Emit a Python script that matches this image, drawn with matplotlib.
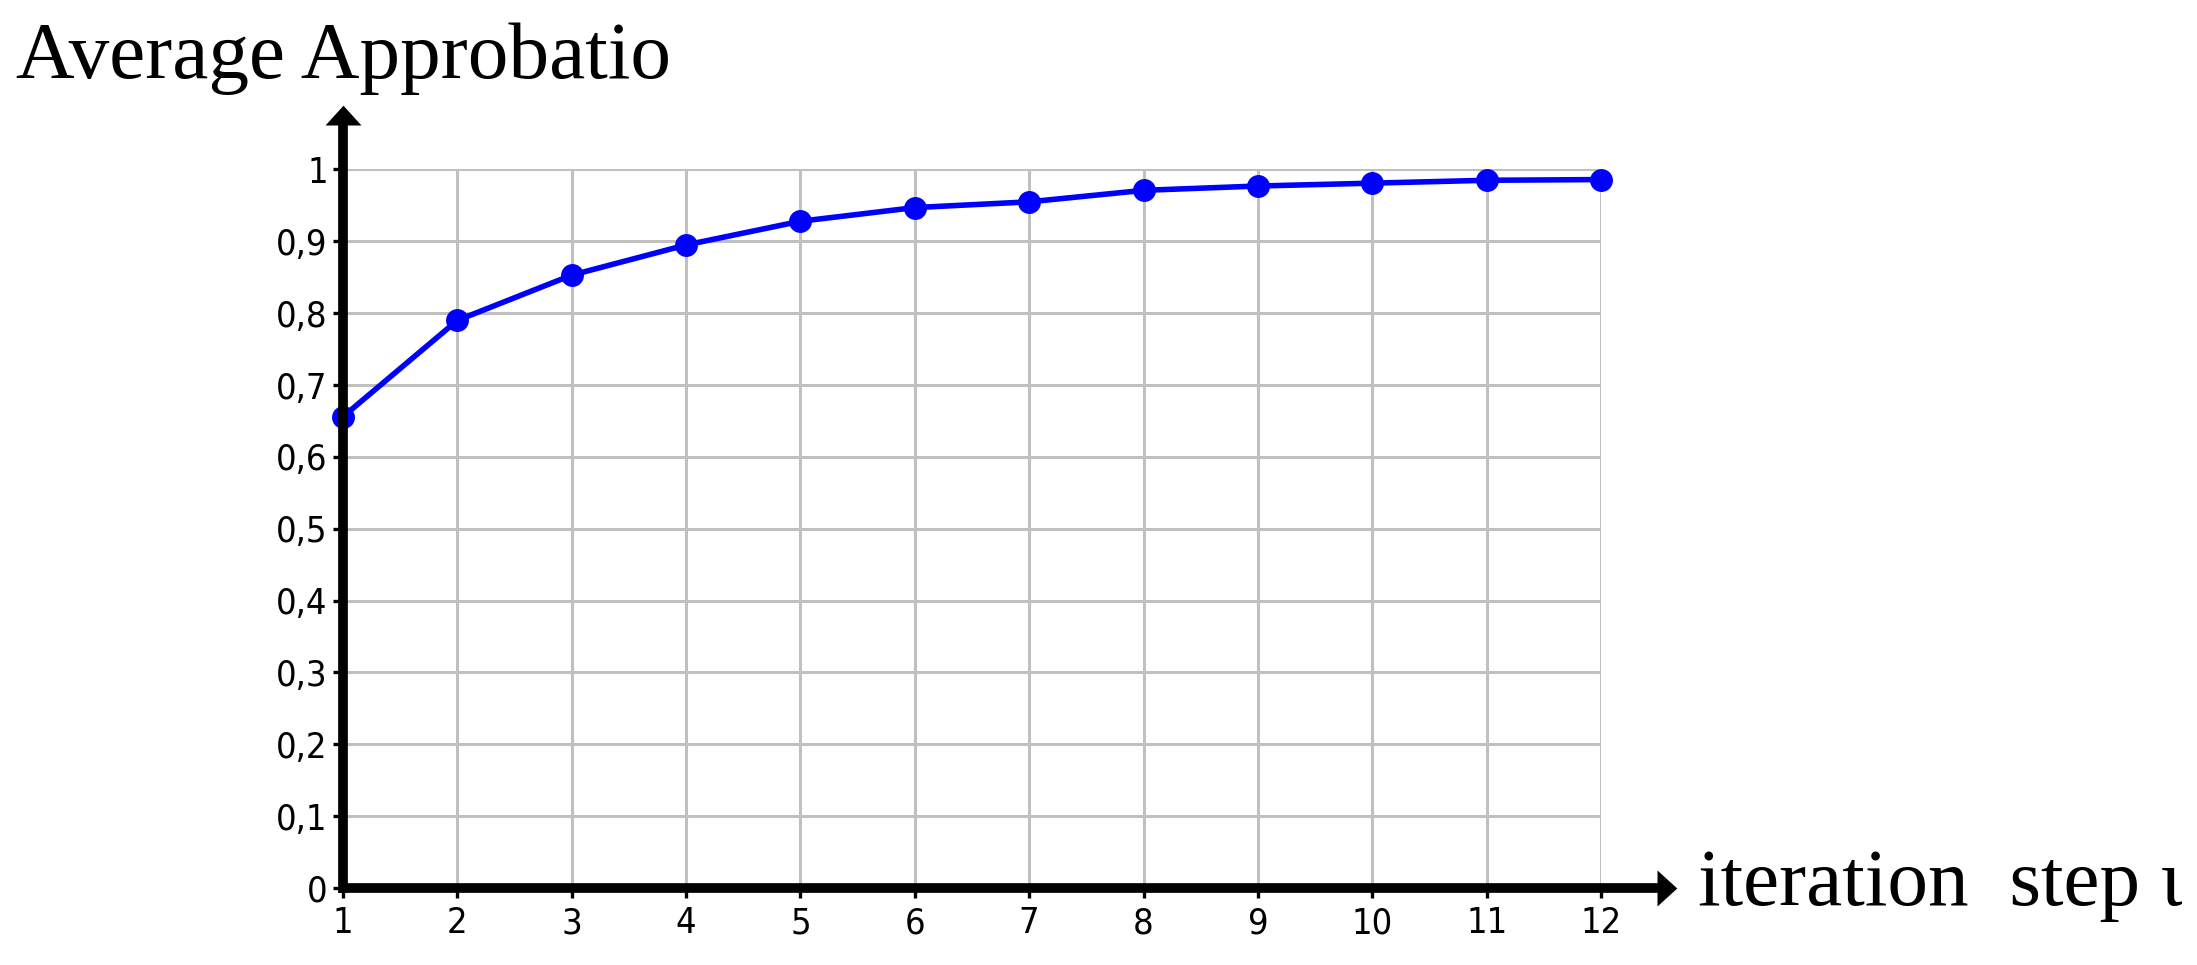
import matplotlib
matplotlib.use('Agg')
import matplotlib.pyplot as plt

# Data
steps = [1, 2, 3, 4, 5, 6, 7, 8, 9, 10, 11, 12]
approbation = [0.656, 0.790, 0.853, 0.895, 0.928, 0.947, 0.955, 0.971, 0.977, 0.981, 0.985, 0.986]
y_ticks = [0, 0.1, 0.2, 0.3, 0.4, 0.5, 0.6, 0.7, 0.8, 0.9, 1.0]
y_tick_labels = ['0', '0,1', '0,2', '0,3', '0,4', '0,5', '0,6', '0,7', '0,8', '0,9', '1']

W, H = 2197, 965
fig = plt.figure(figsize=(W / 100, H / 100), dpi=100)

# axes placed so that x=1..12, y=0..1 fall where the reference has them
left, right, bottom, top = 343, 1601, 888, 169.5
ax = fig.add_axes([left / W, 1 - bottom / H, (right - left) / W, (bottom - top) / H])
ax.set_xlim(1, 12)
ax.set_ylim(0, 1)

ax.grid(True, color='#c0c0c0', linewidth=2.2)
ax.set_axisbelow(True)
for s in ax.spines.values():
    s.set_visible(False)

ax.plot(steps, approbation, color='#0000ff', linewidth=4, marker='o',
        markersize=16.5, markeredgewidth=0, clip_on=False, zorder=5)

tick_font = dict(family='DejaVu Sans', stretch='condensed', size=26)
ax.set_xticks(steps)
ax.set_xticklabels([str(s) for s in steps], fontdict=tick_font)
ax.set_yticks(y_ticks)
ax.set_yticklabels(y_tick_labels, fontdict=tick_font)
ax.tick_params(axis='both', direction='out', length=7, width=2.4, color='black', pad=4)
ax.tick_params(axis='x', pad=6)

# axis lines with flat arrow heads (wide, short triangles)
x_end, y_end = 12.49, 1.062
head_up = [(-1, 0), (1, 0), (0, 1.1), (-1, 0)]
head_right = [(0, -1), (0, 1), (1.1, 0), (0, -1)]
ax.plot([1, 1], [-0.007, y_end + 0.002], color='black', lw=7, clip_on=False,
        solid_capstyle='butt', zorder=6)
ax.plot([1, x_end + 0.02], [0, 0], color='black', lw=7, clip_on=False,
        solid_capstyle='butt', zorder=6)
ax.plot([1], [y_end], marker=head_up, markersize=28.5, color='black',
        markeredgewidth=0, clip_on=False, zorder=7)
ax.plot([x_end], [0], marker=head_right, markersize=28.5, color='black',
        markeredgewidth=0, clip_on=False, zorder=7)

fig.text(16 / W, 1 - 78 / H, 'Average Approbatio', fontfamily='Liberation Serif',
         fontsize=58.5, va='baseline', ha='left')
fig.text(1698 / W, 1 - 905 / H, 'iteration  step \u03b9', fontfamily='Liberation Serif',
         fontsize=58.5, va='baseline', ha='left')

fig.savefig('out.png', dpi=100)
